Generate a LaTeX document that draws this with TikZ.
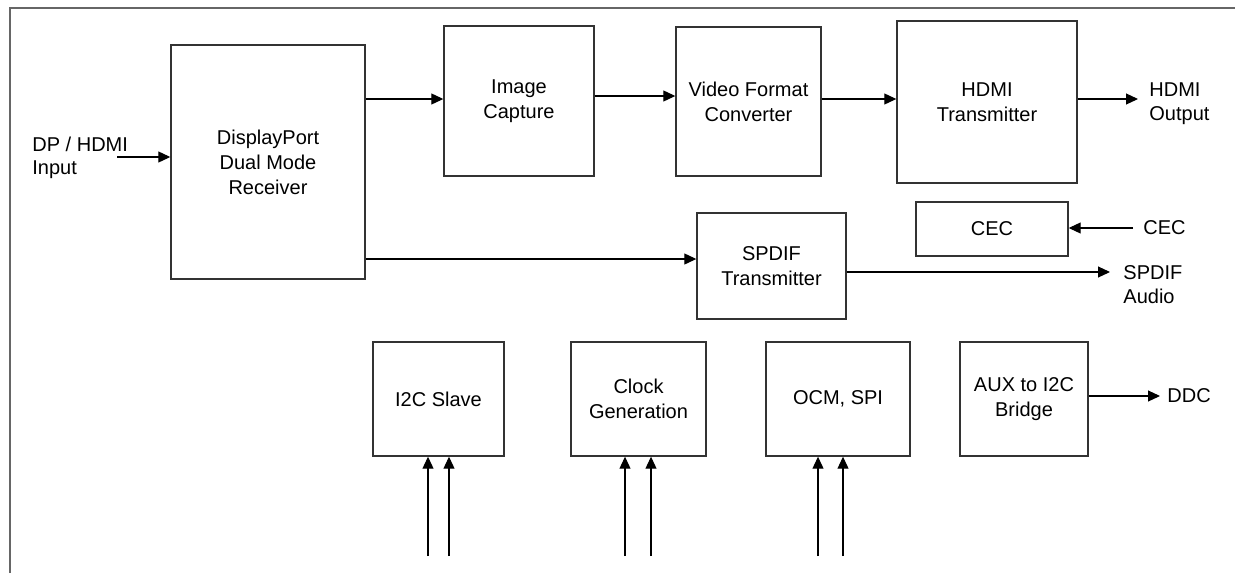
\documentclass[tikz,border=0pt]{standalone}
\usepackage{fontspec}
\setmainfont{Liberation Sans}
\usetikzlibrary{arrows.meta}
\definecolor{edge}{HTML}{333333}
\definecolor{frame}{HTML}{666666}
\begin{document}
\begin{tikzpicture}[x=0.5pt,y=-0.5pt,
  blk/.style={draw=edge,line width=0.7pt,rectangle,inner sep=0pt,align=center,
    font=\fontsize{10pt}{12.5pt}\selectfont},
  lbl/.style={inner sep=0pt,align=left,anchor=west,font=\fontsize{10pt}{12pt}\selectfont},
  arr/.style={draw=black,line width=0.55pt,-{Triangle[length=6pt,width=5.5pt]}}]
\useasboundingbox (0,0) rectangle (1235,573);
% frame
\draw[frame,line width=0.7pt] (10,573) -- (10,8) -- (1235,8);
% blocks
\node[blk,minimum width=97pt,minimum height=117pt] (rx) at (268,162) {DisplayPort\\Dual Mode\\Receiver};
\node[blk,minimum width=75pt,minimum height=75pt] (ic) at (519,101) {Image\\Capture};
\node[blk,minimum width=72.5pt,minimum height=74.5pt] (vfc) at (748.5,101.5) {Video Format\\Converter};
\node[blk,minimum width=90pt,minimum height=81pt] (tx) at (987,102) {HDMI\\Transmitter};
\node[blk,minimum width=76pt,minimum height=27pt] (cec) at (992,229) {CEC};
\node[blk,minimum width=74.5pt,minimum height=53pt] (sp) at (771.5,266) {SPDIF\\Transmitter};
\node[blk,minimum width=65.5pt,minimum height=57pt] (i2c) at (438.5,399) {I2C Slave};
\node[blk,minimum width=67.5pt,minimum height=57pt] (clk) at (638.5,399) {Clock\\Generation};
\node[blk,minimum width=72pt,minimum height=57pt] (ocm) at (838,399) {OCM, SPI};
\node[blk,minimum width=64pt,minimum height=57pt] (aux) at (1024,399) {AUX to I2C\\Bridge};
% labels
\node[lbl,font=\fontsize{10pt}{11.5pt}\selectfont] (lin) at (32,157.5) {DP / HDMI\\Input};
\node[lbl] (lout) at (1149,103.5) {HDMI\\Output};
\node[lbl] (lcec) at (1143,228) {CEC};
\node[lbl] (lsp) at (1123,285) {SPDIF\\Audio};
\node[lbl] (lddc) at (1167,396) {DDC};
% free ends
\coordinate (inp) at (117,157);
\coordinate (spo) at (1110,272);
\coordinate (cecin) at (1133,228);
\coordinate (houtend) at (1138,99);
\coordinate (ddcend) at (1160,396);
\coordinate (b1) at (428,556);
\coordinate (b2) at (449,556);
\coordinate (b3) at (625,556);
\coordinate (b4) at (651,556);
\coordinate (b5) at (818,556);
\coordinate (b6) at (843,556);
% connectors
\draw[arr] (inp) -- (rx.west |- inp);
\draw[arr] (rx.east |- {(0,99)}) -- (ic.west |- {(0,99)});
\draw[arr] (ic.east |- {(0,96)}) -- (vfc.west |- {(0,96)});
\draw[arr] (vfc.east |- {(0,99)}) -- (tx.west |- {(0,99)});
\draw[arr] (tx.east |- houtend) -- (houtend);
\draw[arr] (cecin) -- (cec.east |- cecin);
\draw[arr] (rx.east |- {(0,259)}) -- (sp.west |- {(0,259)});
\draw[arr] (sp.east |- spo) -- (spo);
\draw[arr] (aux.east |- ddcend) -- (ddcend);
\draw[arr] (b1) -- (b1 |- i2c.south);
\draw[arr] (b2) -- (b2 |- i2c.south);
\draw[arr] (b3) -- (b3 |- clk.south);
\draw[arr] (b4) -- (b4 |- clk.south);
\draw[arr] (b5) -- (b5 |- ocm.south);
\draw[arr] (b6) -- (b6 |- ocm.south);
\end{tikzpicture}
\end{document}
